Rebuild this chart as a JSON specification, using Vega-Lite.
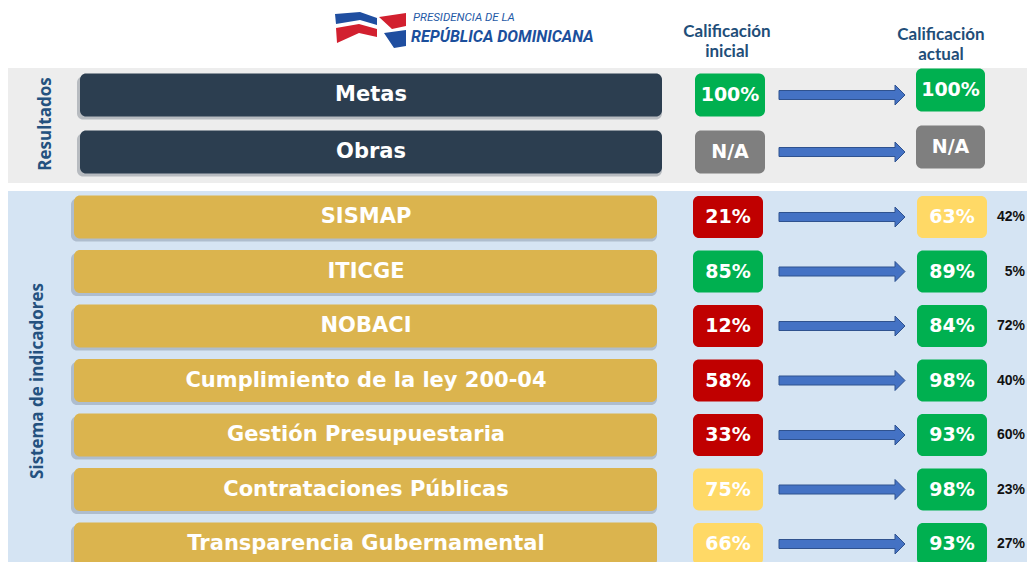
{
  "$schema": "https://vega.github.io/schema/vega-lite/v6.json",
  "padding": {"left": 8, "top": 0, "right": 0, "bottom": 0},
  "background": "white",
  "spacing": 8,
  "bounds": "flush",
  "config": {"view": {"stroke": null}, "axis": {"grid": false}},
  "datasets": {
    "indicadores": [
      {"grupo": "Resultados", "indicador": "Metas", "inicial": 1.0, "actual": 1.0, "variacion": null},
      {"grupo": "Resultados", "indicador": "Obras", "inicial": null, "actual": null, "variacion": null},
      {"grupo": "Sistema", "indicador": "SISMAP", "inicial": 0.21, "actual": 0.63, "variacion": 0.42},
      {"grupo": "Sistema", "indicador": "ITICGE", "inicial": 0.85, "actual": 0.89, "variacion": 0.05},
      {"grupo": "Sistema", "indicador": "NOBACI", "inicial": 0.12, "actual": 0.84, "variacion": 0.72},
      {"grupo": "Sistema", "indicador": "Cumplimiento de la ley 200-04", "inicial": 0.58, "actual": 0.98, "variacion": 0.40},
      {"grupo": "Sistema", "indicador": "Gestión Presupuestaria", "inicial": 0.33, "actual": 0.93, "variacion": 0.60},
      {"grupo": "Sistema", "indicador": "Contrataciones Públicas", "inicial": 0.75, "actual": 0.98, "variacion": 0.23},
      {"grupo": "Sistema", "indicador": "Transparencia Gubernamental", "inicial": 0.66, "actual": 0.93, "variacion": 0.27}
    ]
  },
  "vconcat": [
    {
      "width": 1019,
      "height": 60,
      "data": {"values": [{}]},
      "layer": [
        {
          "mark": {"type": "point", "shape": "M -35 -16 L -10 -18 L 7 -12 L 7 -5 L -10 -10 L -34 -6 Z M 14 3 L 36 0 L 36 16 L 24 18 Z", "size": 4, "filled": true, "color": "#1f4ea0", "opacity": 1, "strokeWidth": 0},
          "encoding": {"x": {"datum": 370, "type": "quantitative", "scale": {"domain": [8, 1027], "nice": false, "zero": false}, "axis": null}}
        },
        {
          "mark": {"type": "point", "shape": "M -34 -2 L -11 -6 L 7 -1 L 7 7 L -11 3 L -33 13 Z M 9 -13 L 36 -17 L 36 -4 L 22 -1 Z", "size": 4, "filled": true, "color": "#d2202f", "opacity": 1, "strokeWidth": 0},
          "encoding": {"x": {"datum": 370, "type": "quantitative", "scale": {"domain": [8, 1027], "nice": false, "zero": false}, "axis": null}}
        },
        {
          "mark": {"type": "text", "text": "PRESIDENCIA DE LA", "align": "left", "baseline": "middle", "dy": -12, "font": "Roboto", "fontStyle": "italic", "fontSize": 11.5, "color": "#1f5aa6"},
          "encoding": {"x": {"datum": 413, "type": "quantitative", "scale": {"domain": [8, 1027], "nice": false, "zero": false}, "axis": null}}
        },
        {
          "mark": {"type": "text", "text": "REPÚBLICA DOMINICANA", "align": "left", "baseline": "middle", "dy": 7, "font": "Roboto", "fontWeight": "bold", "fontStyle": "italic", "fontSize": 16, "color": "#1b4f9c"},
          "encoding": {"x": {"datum": 411, "type": "quantitative", "scale": {"domain": [8, 1027], "nice": false, "zero": false}, "axis": null}}
        },
        {
          "mark": {"type": "text", "text": ["Calificación", "inicial"], "align": "center", "baseline": "middle", "dy": 2, "lineHeight": 20, "font": "Lato", "fontWeight": "bold", "fontSize": 17, "color": "#1f4e79"},
          "encoding": {"x": {"datum": 727, "type": "quantitative", "scale": {"domain": [8, 1027], "nice": false, "zero": false}, "axis": null}}
        },
        {
          "mark": {"type": "text", "text": ["Calificación", "actual"], "align": "center", "baseline": "middle", "dy": 5, "lineHeight": 20, "font": "Lato", "fontWeight": "bold", "fontSize": 17, "color": "#1f4e79"},
          "encoding": {"x": {"datum": 941, "type": "quantitative", "scale": {"domain": [8, 1027], "nice": false, "zero": false}, "axis": null}}
        }
      ]
    },
    {
      "width": 1019,
      "height": 115,
      "view": {"fill": "#ededed", "stroke": null},
      "data": {"name": "indicadores"},
      "transform": [{"filter": "datum.grupo === 'Resultados'"}],
      "encoding": {
        "y": {
          "field": "indicador", "type": "nominal",
          "scale": {"domain": ["Metas", "Obras"], "range": [-1.5, 112.5], "paddingInner": 0, "paddingOuter": 0},
          "axis": {"title": "Resultados", "labels": false, "ticks": false, "domain": false, "offset": -46, "titlePadding": 0, "titleFont": "Open Sans", "titleFontWeight": 700, "titleFontSize": 17, "titleColor": "#24517f"}
        }
      },
      "layer": [
        {
          "mark": {"type": "bar", "height": 43, "cornerRadius": 6, "color": "#3b4a5a", "opacity": 0.3, "xOffset": -3, "yOffset": 3},
          "encoding": {"x": {"datum": 80, "type": "quantitative", "scale": {"domain": [8, 1027], "nice": false, "zero": false}, "axis": null}, "x2": {"datum": 662}}
        },
        {
          "mark": {"type": "bar", "height": 43, "cornerRadius": 6, "color": "#2c3e50"},
          "encoding": {"x": {"datum": 80, "type": "quantitative", "scale": {"domain": [8, 1027], "nice": false, "zero": false}, "axis": null}, "x2": {"datum": 662}}
        },
        {
          "mark": {"type": "text", "align": "center", "baseline": "middle", "font": "DejaVu Sans", "fontWeight": "bold", "fontSize": 21, "color": "white"},
          "encoding": {"x": {"datum": 371, "type": "quantitative", "scale": {"domain": [8, 1027], "nice": false, "zero": false}, "axis": null}, "text": {"field": "indicador"}}
        },
        {
          "mark": {"type": "bar", "height": 43, "cornerRadius": 6},
          "encoding": {
            "x": {"datum": 695, "type": "quantitative", "scale": {"domain": [8, 1027], "nice": false, "zero": false}, "axis": null}, "x2": {"datum": 765},
            "color": {"condition": [{"test": "datum.inicial == null", "value": "#7f7f7f"}, {"test": "datum.inicial < 0.6", "value": "#c00000"}, {"test": "datum.inicial < 0.8", "value": "#ffd966"}], "value": "#00b050"}
          }
        },
        {
          "mark": {"type": "text", "align": "center", "baseline": "middle", "font": "DejaVu Sans", "fontWeight": "bold", "fontSize": 19, "color": "white"},
          "encoding": {
            "x": {"datum": 730, "type": "quantitative", "scale": {"domain": [8, 1027], "nice": false, "zero": false}, "axis": null},
            "text": {"condition": {"test": "datum.inicial == null", "value": "N/A"}, "field": "inicial", "type": "quantitative", "format": ".0%"}
          }
        },
        {
          "mark": {"type": "point", "shape": "M -6.3 -0.45 L 5.3 -0.45 L 5.3 -1 L 6.3 0 L 5.3 1 L 5.3 0.45 L -6.3 0.45 Z", "size": 400, "filled": true, "color": "#4472c4", "stroke": "#2f528f", "strokeWidth": 1, "opacity": 1},
          "encoding": {"x": {"datum": 842, "type": "quantitative", "scale": {"domain": [8, 1027], "nice": false, "zero": false}, "axis": null}}
        },
        {
          "mark": {"type": "bar", "height": 43, "cornerRadius": 6, "yOffset": -5},
          "encoding": {
            "x": {"datum": 916, "type": "quantitative", "scale": {"domain": [8, 1027], "nice": false, "zero": false}, "axis": null}, "x2": {"datum": 985},
            "color": {"condition": [{"test": "datum.actual == null", "value": "#7f7f7f"}, {"test": "datum.actual < 0.6", "value": "#c00000"}, {"test": "datum.actual < 0.8", "value": "#ffd966"}], "value": "#00b050"}
          }
        },
        {
          "mark": {"type": "text", "align": "center", "baseline": "middle", "font": "DejaVu Sans", "fontWeight": "bold", "fontSize": 19, "color": "white", "yOffset": -5},
          "encoding": {
            "x": {"datum": 950.5, "type": "quantitative", "scale": {"domain": [8, 1027], "nice": false, "zero": false}, "axis": null},
            "text": {"condition": {"test": "datum.actual == null", "value": "N/A"}, "field": "actual", "type": "quantitative", "format": ".0%"}
          }
        }
      ]
    },
    {
      "width": 1019,
      "height": 371,
      "view": {"fill": "#d5e4f3", "stroke": null},
      "data": {"name": "indicadores"},
      "transform": [{"filter": "datum.grupo === 'Sistema'"}],
      "encoding": {
        "y": {
          "field": "indicador", "type": "nominal",
          "scale": {"domain": ["SISMAP", "ITICGE", "NOBACI", "Cumplimiento de la ley 200-04", "Gestión Presupuestaria", "Contrataciones Públicas", "Transparencia Gubernamental"], "range": [-1.25, 380.25], "paddingInner": 0, "paddingOuter": 0},
          "axis": {"title": "Sistema de indicadores", "labels": false, "ticks": false, "domain": false, "offset": -38, "titlePadding": 0, "titleFont": "Open Sans", "titleFontWeight": 700, "titleFontSize": 17, "titleColor": "#24517f"}
        }
      },
      "layer": [
        {
          "mark": {"type": "bar", "height": 43, "cornerRadius": 6, "color": "#56657a", "opacity": 0.3, "xOffset": -3, "yOffset": 3},
          "encoding": {"x": {"datum": 74, "type": "quantitative", "scale": {"domain": [8, 1027], "nice": false, "zero": false}, "axis": null}, "x2": {"datum": 657}}
        },
        {
          "mark": {"type": "bar", "height": 43, "cornerRadius": 6, "color": "#dbb44e"},
          "encoding": {"x": {"datum": 74, "type": "quantitative", "scale": {"domain": [8, 1027], "nice": false, "zero": false}, "axis": null}, "x2": {"datum": 657}}
        },
        {
          "mark": {"type": "text", "align": "center", "baseline": "middle", "font": "DejaVu Sans", "fontWeight": "bold", "fontSize": 21, "color": "white"},
          "encoding": {"x": {"datum": 366, "type": "quantitative", "scale": {"domain": [8, 1027], "nice": false, "zero": false}, "axis": null}, "text": {"field": "indicador"}}
        },
        {
          "mark": {"type": "bar", "height": 42, "cornerRadius": 6},
          "encoding": {
            "x": {"datum": 693, "type": "quantitative", "scale": {"domain": [8, 1027], "nice": false, "zero": false}, "axis": null}, "x2": {"datum": 763},
            "color": {"condition": [{"test": "datum.inicial == null", "value": "#7f7f7f"}, {"test": "datum.inicial < 0.6", "value": "#c00000"}, {"test": "datum.inicial < 0.8", "value": "#ffd966"}], "value": "#00b050"}
          }
        },
        {
          "mark": {"type": "text", "align": "center", "baseline": "middle", "font": "DejaVu Sans", "fontWeight": "bold", "fontSize": 19, "color": "white"},
          "encoding": {
            "x": {"datum": 728, "type": "quantitative", "scale": {"domain": [8, 1027], "nice": false, "zero": false}, "axis": null},
            "text": {"field": "inicial", "type": "quantitative", "format": ".0%"}
          }
        },
        {
          "mark": {"type": "point", "shape": "M -6.3 -0.45 L 5.3 -0.45 L 5.3 -1 L 6.3 0 L 5.3 1 L 5.3 0.45 L -6.3 0.45 Z", "size": 400, "filled": true, "color": "#4472c4", "stroke": "#2f528f", "strokeWidth": 1, "opacity": 1},
          "encoding": {"x": {"datum": 842, "type": "quantitative", "scale": {"domain": [8, 1027], "nice": false, "zero": false}, "axis": null}}
        },
        {
          "mark": {"type": "bar", "height": 42, "cornerRadius": 6},
          "encoding": {
            "x": {"datum": 917, "type": "quantitative", "scale": {"domain": [8, 1027], "nice": false, "zero": false}, "axis": null}, "x2": {"datum": 987},
            "color": {"condition": [{"test": "datum.actual == null", "value": "#7f7f7f"}, {"test": "datum.actual < 0.6", "value": "#c00000"}, {"test": "datum.actual < 0.8", "value": "#ffd966"}], "value": "#00b050"}
          }
        },
        {
          "mark": {"type": "text", "align": "center", "baseline": "middle", "font": "DejaVu Sans", "fontWeight": "bold", "fontSize": 19, "color": "white"},
          "encoding": {
            "x": {"datum": 952, "type": "quantitative", "scale": {"domain": [8, 1027], "nice": false, "zero": false}, "axis": null},
            "text": {"field": "actual", "type": "quantitative", "format": ".0%"}
          }
        },
        {
          "mark": {"type": "text", "align": "right", "baseline": "middle", "font": "Liberation Sans", "fontWeight": "bold", "fontSize": 14, "color": "#111111"},
          "encoding": {
            "x": {"datum": 1025, "type": "quantitative", "scale": {"domain": [8, 1027], "nice": false, "zero": false}, "axis": null},
            "text": {"field": "variacion", "type": "quantitative", "format": ".0%"}
          }
        }
      ]
    }
  ]
}
